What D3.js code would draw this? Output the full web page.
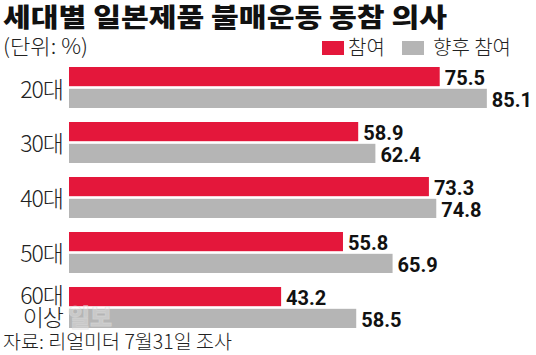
<!DOCTYPE html>
<html><head><meta charset="utf-8">
<script src="https://cdn.jsdelivr.net/npm/d3@7"></script>
<style>
html,body{margin:0;padding:0;background:#fff;}
svg{display:block;}
</style></head>
<body>
<svg id="chart" width="536" height="355"></svg>
<script>
const ageGroups = ["20대", "30대", "40대", "50대", "60대 이상"];
const seriesNames = ["참여", "향후 참여"];
const participate = [75.5, 58.9, 73.3, 55.8, 43.2];
const future = [85.1, 62.4, 74.8, 65.9, 58.5];
const colors = ["#e4173b", "#b5b5b5"];

const titleText = "세대별 일본제품 불매운동 동참 의사";
const unitText = "(단위: %)";
const sourceText = "자료: 리얼미터 7월31일 조사";
const watermarkText = "일보";

const KR = "'Noto Sans CJK KR', 'Noto Sans', sans-serif";
const NUM = "'Liberation Sans Narrow', 'Arial Narrow', 'Roboto', sans-serif";

const svg = d3.select("#chart");

const x = d3.scaleLinear().domain([0, 100]).range([69, 560]);
const y = d3.scaleBand().domain(ageGroups).range([67, 328]).paddingInner(0.2545).paddingOuter(0);
const ys = d3.scaleBand().domain(seriesNames).range([0, y.bandwidth()]).paddingInner(0.12);

const data = ageGroups.map((g, i) => ({group: g, values: [
  {series: seriesNames[0], value: participate[i], color: colors[0]},
  {series: seriesNames[1], value: future[i], color: colors[1]}
]}));

// title
svg.append("text").attr("x", 3).attr("y", 27)
  .attr("font-family", KR).attr("font-weight", 900).attr("font-size", 26)
  .attr("textLength", 444).attr("lengthAdjust", "spacingAndGlyphs")
  .attr("fill", "#111").text(titleText);

svg.append("text").attr("x", 3).attr("y", 54)
  .attr("font-family", KR).attr("font-weight", 300).attr("font-size", 21)
  .attr("textLength", 85).attr("lengthAdjust", "spacingAndGlyphs")
  .attr("fill", "#222").text(unitText);

// legend
const legendPos = [{rx: 322, tx: 348}, {rx: 402, tx: 433}];
seriesNames.forEach((s, i) => {
  svg.append("rect").attr("x", legendPos[i].rx).attr("y", 41).attr("width", 22).attr("height", 14).attr("fill", colors[i]);
  svg.append("text").attr("x", legendPos[i].tx).attr("y", 55)
    .attr("font-family", KR).attr("font-weight", 300).attr("font-size", 20)
    .attr("fill", "#222").text(s);
});

// bars
const groups = svg.selectAll("g.grp").data(data).join("g").attr("class", "grp")
  .attr("transform", d => `translate(0,${y(d.group)})`);

groups.selectAll("rect").data(d => d.values).join("rect")
  .attr("x", x(0)).attr("y", d => ys(d.series))
  .attr("width", d => x(d.value) - x(0)).attr("height", ys.bandwidth())
  .attr("fill", d => d.color);

groups.selectAll("text.val").data(d => d.values).join("text").attr("class", "val")
  .attr("x", d => x(d.value) + 5).attr("y", d => ys(d.series) + ys.bandwidth() - 1)
  .attr("font-family", NUM).attr("font-weight", 700).attr("font-size", 20)
  .attr("fill", "#111").text(d => d.value.toFixed(1));

// watermark
svg.append("text").attr("x", 68).attr("y", 326)
  .attr("font-family", KR).attr("font-weight", 900).attr("font-size", 24)
  .attr("fill", "#ffffff").attr("fill-opacity", 0.3)
  .attr("stroke", "#d8d8d8").attr("stroke-opacity", 0.6).attr("stroke-width", 0.8)
  .text(watermarkText);

// age labels
groups.each(function(d) {
  const g = d3.select(this);
  const parts = d.group.split(" ");
  const firstY = parts.length === 1 ? y.bandwidth() / 2 + 10 : 17;
  const t = g.append("text").attr("x", 63).attr("y", firstY)
    .attr("text-anchor", "end").attr("font-family", KR).attr("font-weight", 300)
    .attr("font-size", 23).attr("letter-spacing", -1).attr("fill", "#222");
  parts.forEach((p, j) => {
    t.append("tspan").attr("x", 63).attr("dy", j === 0 ? 0 : 22).text(p);
  });
});

// source
svg.append("text").attr("x", 3).attr("y", 349)
  .attr("font-family", KR).attr("font-weight", 300).attr("font-size", 19.5)
  .attr("textLength", 229).attr("lengthAdjust", "spacingAndGlyphs")
  .attr("fill", "#222").text(sourceText);
</script>
</body></html>
